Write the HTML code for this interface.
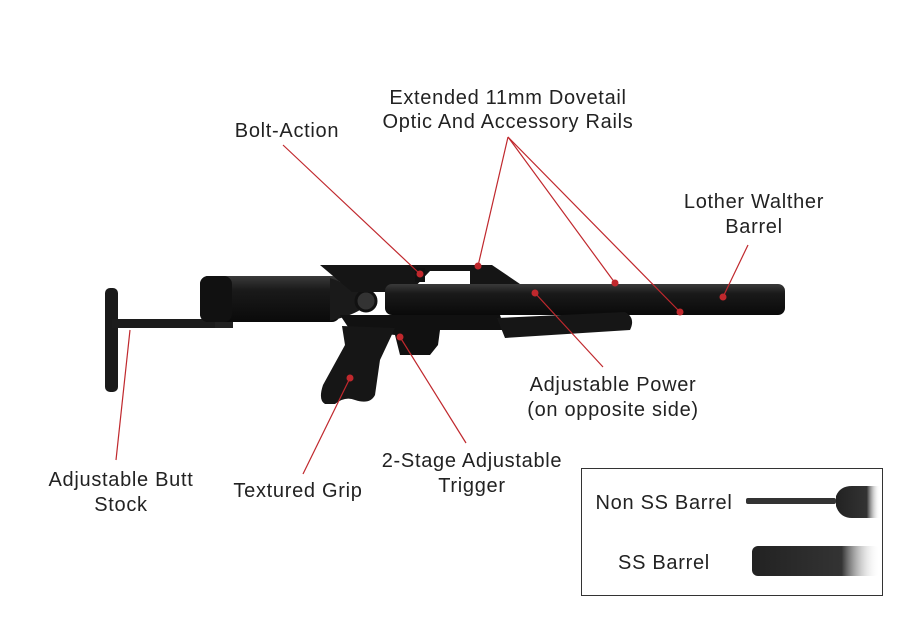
<!DOCTYPE html>
<html><head><meta charset="utf-8"><style>
html,body{margin:0;padding:0;background:#fff}
svg{display:block}
text{font-family:"Liberation Sans",sans-serif;font-size:20px;letter-spacing:0.7px;fill:#222;text-anchor:middle}
</style></head><body>
<svg width="901" height="644" viewBox="0 0 901 644" xmlns="http://www.w3.org/2000/svg">
<defs>
<linearGradient id="cyl" x1="0" y1="0" x2="0" y2="1">
<stop offset="0" stop-color="#3a3a3a"/><stop offset="0.3" stop-color="#1a1a1a"/><stop offset="1" stop-color="#0a0a0a"/>
</linearGradient>
<linearGradient id="fade" x1="0" y1="0" x2="1" y2="0">
<stop offset="0" stop-color="#222"/><stop offset="0.7" stop-color="#333"/><stop offset="1" stop-color="#fff" stop-opacity="0"/>
</linearGradient>
</defs>
<!-- butt plate & rod -->
<rect x="105" y="288" width="13" height="104" rx="5" fill="#1a1a1a"/>
<rect x="112" y="319" width="120" height="9" fill="#1c1c1c"/>
<rect x="215" y="316" width="18" height="12" fill="#222"/>
<!-- tank -->
<rect x="200" y="276" width="140" height="46" rx="8" fill="url(#cyl)"/>
<rect x="200" y="276" width="32" height="46" rx="8" fill="#111"/>
<path d="M330 278 Q350 285 360 292 L360 310 Q350 316 330 321Z" fill="#1a1a1a"/>
<circle cx="366" cy="301" r="10" fill="#333" stroke="#111" stroke-width="3"/>
<!-- top rail -->
<path d="M320 265 L492 265 L520 284 L470 284 L470 271 L430 271 L412 290 L385 292 L352 292 Z" fill="#151515"/>
<rect x="415" y="268" width="10" height="14" fill="#111"/>
<!-- barrel -->
<rect x="385" y="284" width="400" height="31" rx="7" fill="url(#cyl)"/>
<!-- lower body -->
<path d="M340 315 L500 315 L505 330 L440 330 L438 345 L430 355 L400 355 L395 335 L350 330 Z" fill="#111"/>
<!-- forend -->
<path d="M497 318 L625 312 Q636 318 630 330 L505 338 Z" fill="#161616"/>
<!-- grip -->
<path d="M342 326 L395 328 L380 360 L375 395 Q370 405 355 400 Q345 396 335 404 L325 404 Q318 400 323 385 L345 345 Z" fill="#161616"/>
<!-- leader lines -->
<g stroke="#c0282d" stroke-width="1.2" fill="none">
<line x1="283" y1="145" x2="420" y2="274"/>
<line x1="508" y1="137" x2="478" y2="266"/>
<line x1="508" y1="137" x2="615" y2="283"/>
<line x1="508" y1="137" x2="680" y2="312"/>
<line x1="748" y1="245" x2="723" y2="297"/>
<line x1="603" y1="367" x2="535" y2="293"/>
<line x1="466" y1="443" x2="400" y2="337"/>
<line x1="303" y1="474" x2="350" y2="378"/>
<line x1="116" y1="460" x2="130" y2="330"/>
</g>
<g fill="#c0282d">
<circle cx="420" cy="274" r="3.5"/><circle cx="478" cy="266" r="3.5"/><circle cx="615" cy="283" r="3.5"/>
<circle cx="680" cy="312" r="3.5"/><circle cx="723" cy="297" r="3.5"/><circle cx="535" cy="293" r="3.5"/>
<circle cx="400" cy="337" r="3.5"/><circle cx="350" cy="378" r="3.5"/>
</g>
<!-- labels -->
<text x="508" y="104">Extended 11mm Dovetail</text>
<text x="508" y="128">Optic And Accessory Rails</text>
<text x="287" y="137">Bolt-Action</text>
<text x="754" y="208">Lother Walther</text>
<text x="754" y="233">Barrel</text>
<text x="613" y="391">Adjustable Power</text>
<text x="613" y="416">(on opposite side)</text>
<text x="472" y="467">2-Stage Adjustable</text>
<text x="472" y="492">Trigger</text>
<text x="298" y="497">Textured Grip</text>
<text x="121" y="486">Adjustable Butt</text>
<text x="121" y="511">Stock</text>
<!-- inset -->
<rect x="581.5" y="468.5" width="301" height="127" fill="#fff" stroke="#333" stroke-width="1"/>
<text x="664" y="509">Non SS Barrel</text>
<text x="664" y="569">SS Barrel</text>
<rect x="746" y="498" width="90" height="6" rx="2" fill="#333"/>
<path d="M836 496 Q840 486 852 486 L880 486 L880 518 L852 518 Q840 518 836 506Z" fill="url(#fade)"/>
<rect x="752" y="546" width="128" height="30" rx="6" fill="url(#fade)"/>
</svg>
</body></html>
